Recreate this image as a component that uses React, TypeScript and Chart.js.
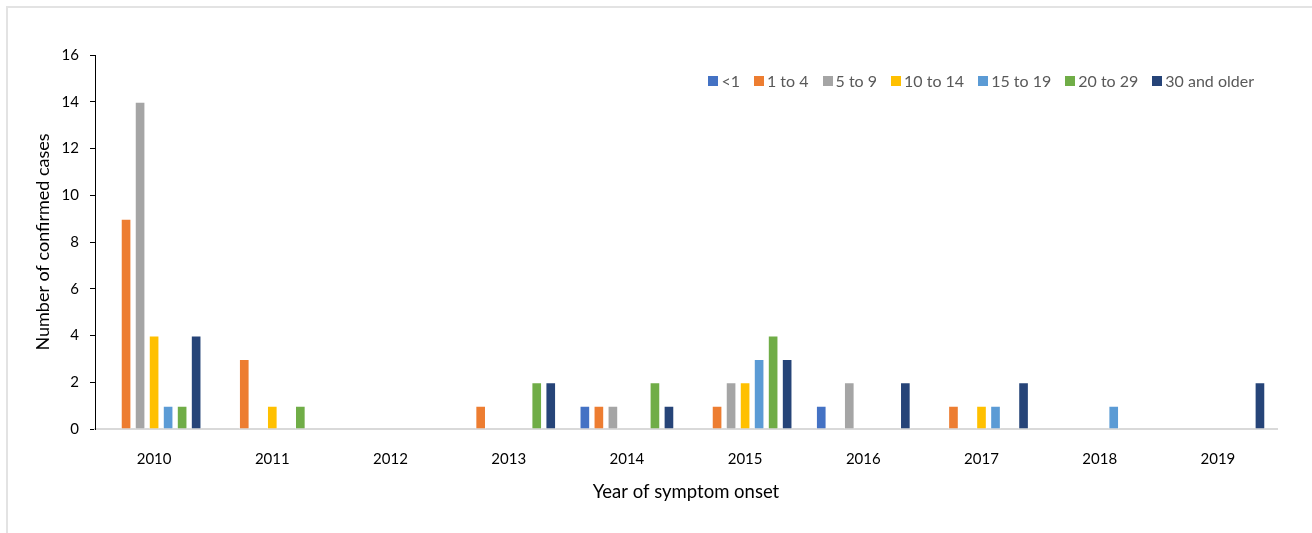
import React, { useEffect, useRef } from "react";
import { Chart, registerables } from "chart.js";

Chart.register(...registerables);

const years = ["2010", "2011", "2012", "2013", "2014", "2015", "2016", "2017", "2018", "2019"];
const seriesNames = ["<1", "1 to 4", "5 to 9", "10 to 14", "15 to 19", "20 to 29", "30 and older"];
const under1 = [0, 0, 0, 0, 1, 0, 1, 0, 0, 0];
const age1to4 = [9, 3, 0, 1, 1, 1, 0, 1, 0, 0];
const age5to9 = [14, 0, 0, 0, 1, 2, 2, 0, 0, 0];
const age10to14 = [4, 1, 0, 0, 0, 2, 0, 1, 0, 0];
const age15to19 = [1, 0, 0, 0, 0, 3, 0, 1, 1, 0];
const age20to29 = [1, 1, 0, 2, 2, 4, 0, 0, 0, 0];
const age30plus = [4, 0, 0, 2, 1, 3, 2, 2, 0, 2];
const seriesColors = ["#4472C4", "#ED7D31", "#A5A5A5", "#FFC000", "#5B9BD5", "#70AD47", "#264478"];
const yTicks = [0, 2, 4, 6, 8, 10, 12, 14, 16];

const FONT = "Lato, 'Open Sans', sans-serif";

export default function App() {
  const ref = useRef<HTMLCanvasElement | null>(null);
  useEffect(() => {
    if (!ref.current) return;
    const values = [under1, age1to4, age5to9, age10to14, age15to19, age20to29, age30plus];
    const chart = new Chart(ref.current, {
      type: "bar",
      data: {
        labels: years,
        datasets: seriesNames.map((name, i) => ({
          label: name,
          data: values[i],
          backgroundColor: seriesColors[i],
          borderColor: "#ffffff",
          borderWidth: 1,
          categoryPercentage: 0.83,
          barPercentage: 0.76,
        })),
      },
      options: {
        animation: false,
        responsive: false,
        maintainAspectRatio: false,
        layout: { padding: { left: 20, top: 55, right: 35, bottom: 20 } },
        plugins: {
          tooltip: { enabled: false },
          legend: { display: false },
        },
        scales: {
          x: {
            grid: { display: false },
            border: { display: true, color: "#d9d9d9", width: 2 },
            ticks: { color: "#000000", font: { family: FONT, size: 15 }, padding: 13 },
            title: {
              display: true,
              text: "Year of symptom onset",
              color: "#000000",
              font: { family: FONT, size: 18.5 },
              padding: { top: 0, bottom: 10 },
            },
            afterFit: (s: any) => {
              s.height = 84;
            },
          },
          y: {
            min: 0,
            max: 16,
            afterBuildTicks: (s: any) => {
              s.ticks = yTicks.map((v) => ({ value: v }));
            },
            grid: { display: true, drawOnChartArea: false, drawTicks: true, tickLength: 5, color: "#000000" },
            border: { display: true, color: "#000000", width: 1 },
            ticks: { color: "#000000", font: { family: FONT, size: 15 }, padding: 11 },
            title: {
              display: true,
              text: "Number of confirmed cases",
              color: "#000000",
              font: { family: FONT, size: 18 },
              padding: { top: 12, bottom: 0 },
            },
            afterFit: (s: any) => {
              s.width = 75;
            },
          },
        },
      },
    });
    return () => chart.destroy();
  }, []);
  return (
    <div style={{ position: "absolute", left: 0, top: 0, width: 1312, height: 533, overflow: "hidden", background: "#fff" }}>
      <div
        style={{
          position: "absolute",
          left: 6,
          top: 6,
          width: 1330,
          height: 560,
          border: "2px solid #e3e3e3",
          boxSizing: "border-box",
        }}
      />
      <canvas ref={ref} width={1312} height={533} style={{ position: "absolute", left: 0, top: 0, width: 1312, height: 533 }} />
      <div
        style={{
          position: "absolute",
          right: 58,
          top: 71,
          display: "flex",
          alignItems: "center",
          fontFamily: FONT,
          fontSize: 16,
          color: "#595959",
          lineHeight: "20px",
          whiteSpace: "nowrap",
        }}
      >
        {seriesNames.map((name, i) => (
          <div key={name} style={{ display: "flex", alignItems: "center", marginLeft: i === 0 ? 0 : 14 }}>
            <span style={{ display: "inline-block", width: 10, height: 10, background: seriesColors[i], marginRight: 3 }} />
            <span>{name}</span>
          </div>
        ))}
      </div>
    </div>
  );
}
